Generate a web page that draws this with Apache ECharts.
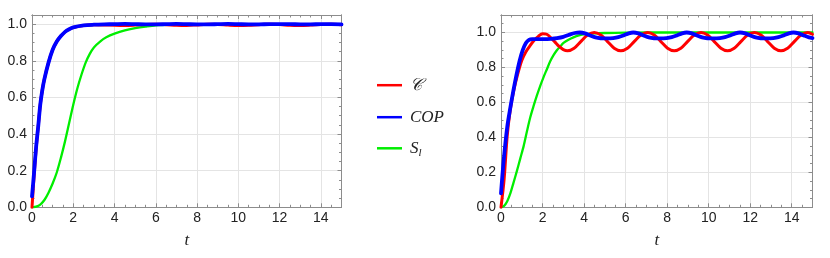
<!DOCTYPE html>
<html>
<head>
<meta charset="utf-8">
<script src="https://cdn.jsdelivr.net/npm/echarts@6/dist/echarts.min.js"></script>
<style>html,body{margin:0;padding:0;background:#fff;}#c{width:830px;height:258px;}</style>
</head>
<body>
<div id="c"></div>
<script>
// ---- Left panel data ----
const leftT = [0,0.1,0.2,0.3,0.4,0.5,0.6,0.8,1.0,1.2,1.4,1.6,1.8,2.0,2.5,3.0,3.5,4.0,4.5,5,5.5,6,6.5,7,7.5,8,8.5,9,9.5,10,10.5,11,11.5,12,12.5,13,13.5,14,14.5,15];
const leftRed = [0,0.17,0.32,0.44,0.56,0.64,0.70,0.79,0.86,0.905,0.935,0.958,0.972,0.982,0.993,0.997,0.996,0.994,0.993,0.995,0.998,0.999,0.997,0.994,0.993,0.996,0.999,0.998,0.995,0.993,0.994,0.997,0.999,0.998,0.994,0.993,0.995,0.998,0.999,0.997];
const leftBlue = [0.06,0.19,0.33,0.44,0.56,0.64,0.70,0.79,0.86,0.905,0.935,0.958,0.972,0.982,0.993,0.997,0.999,1.0,1.001,1.0,0.999,0.999,1.0,1.001,1.0,0.999,0.999,1.0,1.001,1.0,0.999,0.999,1.0,1.0,1.0,0.999,0.999,1.0,1.0,0.999];
const leftGreenT = [0,0.2,0.4,0.6,0.8,1.0,1.2,1.4,1.6,1.8,2.0,2.2,2.4,2.6,2.8,3.0,3.3,3.6,4.0,4.5,5.0,5.5,6.0,7.0,8.0,10,12,15];
const leftGreen = [0,0.004,0.015,0.04,0.08,0.13,0.19,0.27,0.36,0.46,0.56,0.65,0.725,0.79,0.838,0.873,0.905,0.928,0.948,0.966,0.978,0.987,0.994,0.998,1.0,1.0,1.0,1.0];

// ---- Right panel data ----
const rightRedT = [0,0.15,0.3,0.45,0.6,0.8,1.0,1.2,1.4,1.6,1.8,2.0,2.2,2.4,2.6,2.8,3.0,3.2,3.52,3.84,4.17,4.49,4.81,5.13,5.45,5.77,6.09,6.41,6.74,7.06,7.38,7.70,8.02,8.34,8.66,8.98,9.31,9.63,9.95,10.27,10.59,10.91,11.23,11.55,11.88,12.2,12.52,12.84,13.16,13.48,13.8,14.12,14.45,14.77,15];
const rightRed = [0,0.16,0.41,0.56,0.66,0.76,0.84,0.89,0.925,0.955,0.978,0.993,0.99,0.97,0.945,0.92,0.902,0.895,0.91,0.948,0.985,1.0,0.985,0.948,0.91,0.895,0.91,0.948,0.985,1.0,0.985,0.948,0.91,0.895,0.91,0.948,0.985,1.0,0.985,0.948,0.91,0.895,0.91,0.948,0.985,1.0,0.985,0.948,0.91,0.895,0.91,0.948,0.985,1.0,0.99];
const rightBlueT = [0,0.13,0.3,0.45,0.6,0.75,0.9,1.05,1.2,1.35,1.5,1.8,2.1,2.4,2.7,3.0,3.3,3.55,3.8,4.05,4.3,4.55,4.8,5.1,5.4,5.65,5.9,6.15,6.37,6.62,6.87,7.12,7.37,7.67,7.97,8.22,8.47,8.72,8.94,9.19,9.44,9.69,9.94,10.24,10.54,10.79,11.04,11.29,11.51,11.76,12.01,12.26,12.51,12.81,13.11,13.36,13.61,13.86,14.08,14.33,14.58,14.83,15];
const rightBlue = [0.08,0.27,0.46,0.57,0.67,0.76,0.84,0.9,0.94,0.958,0.962,0.962,0.962,0.964,0.968,0.975,0.988,0.997,1.0,0.995,0.983,0.972,0.967,0.966,0.968,0.973,0.983,0.995,1.0,0.995,0.983,0.972,0.967,0.966,0.968,0.973,0.983,0.995,1.0,0.995,0.983,0.972,0.967,0.966,0.968,0.973,0.983,0.995,1.0,0.995,0.983,0.972,0.967,0.966,0.968,0.973,0.983,0.995,1.0,0.995,0.983,0.972,0.968];
const rightGreenT = [0,0.15,0.3,0.45,0.6,0.77,0.93,1.09,1.25,1.41,1.57,1.73,1.89,2.05,2.21,2.37,2.53,2.69,2.85,3.01,3.25,3.49,3.75,4.05,4.5,5,6,7,15];
const rightGreen = [0,0.008,0.035,0.08,0.14,0.21,0.28,0.35,0.435,0.515,0.58,0.64,0.695,0.745,0.79,0.835,0.87,0.898,0.92,0.94,0.958,0.972,0.983,0.99,0.995,0.997,0.999,1.0,1.0];

// ---- Axis ticks ----
const xMajorStep = 2, xMinorStep = 0.5, yMajorStep = 0.2, yMinorStep = 0.05;
const xMax = 15, yMaxLeft = 1.05, yMaxRight = 1.1;
const seriesNames = ['\u{1D49E}', 'COP', 'S_l'];

const pairs = (t, v) => t.map((x, i) => [x, v[i]]);
const frameColor = '#8c8c8c';
const gridColor = '#e4e4e4';
const labelFont = {fontFamily: 'Liberation Sans, Arial, sans-serif', fontSize: 14, color: '#222'};

function isMult(v, s) { return Math.abs(v / s - Math.round(v / s)) < 1e-6; }

function xAxesFor(gi) {
  const base = {type: 'value', gridIndex: gi, min: 0, max: xMax, axisLine: {show: true, onZero: false, lineStyle: {color: frameColor, width: 1}}};
  return [
    Object.assign({}, base, {position: 'bottom', interval: xMajorStep,
      axisTick: {inside: true, length: 4, lineStyle: {color: frameColor}},
      axisLabel: Object.assign({margin: 4, formatter: v => isMult(v, xMajorStep) ? String(Math.round(v)) : ''}, labelFont),
      splitLine: {show: true, lineStyle: {color: gridColor, width: 1}},
      name: 't', nameLocation: 'middle', nameGap: 25,
      nameTextStyle: {fontFamily: 'Liberation Serif, Times New Roman, serif', fontStyle: 'italic', fontSize: 17, color: '#222'}}),
    Object.assign({}, base, {position: 'bottom', interval: xMinorStep,
      axisTick: {inside: true, length: 2.5, lineStyle: {color: frameColor}},
      axisLabel: {show: false}, splitLine: {show: false}}),
    Object.assign({}, base, {position: 'top', interval: xMajorStep,
      axisTick: {inside: true, length: 4, lineStyle: {color: frameColor}},
      axisLabel: {show: false}, splitLine: {show: false}}),
    Object.assign({}, base, {position: 'top', interval: xMinorStep,
      axisTick: {inside: true, length: 2.5, lineStyle: {color: frameColor}},
      axisLabel: {show: false}, splitLine: {show: false}})
  ];
}
function yAxesFor(gi, yMax) {
  const base = {type: 'value', gridIndex: gi, min: 0, max: yMax, axisLine: {show: true, onZero: false, lineStyle: {color: frameColor, width: 1}}};
  return [
    Object.assign({}, base, {position: 'left', interval: yMajorStep,
      axisTick: {inside: true, length: 4, lineStyle: {color: frameColor}},
      axisLabel: Object.assign({margin: 5, formatter: v => isMult(v, yMajorStep) ? v.toFixed(1) : ''}, labelFont),
      splitLine: {show: true, lineStyle: {color: gridColor, width: 1}}}),
    Object.assign({}, base, {position: 'left', interval: yMinorStep,
      axisTick: {inside: true, length: 2.5, lineStyle: {color: frameColor}},
      axisLabel: {show: false}, splitLine: {show: false}}),
    Object.assign({}, base, {position: 'right', interval: yMajorStep,
      axisTick: {inside: true, length: 4, lineStyle: {color: frameColor}},
      axisLabel: {show: false}, splitLine: {show: false}}),
    Object.assign({}, base, {position: 'right', interval: yMinorStep,
      axisTick: {inside: true, length: 2.5, lineStyle: {color: frameColor}},
      axisLabel: {show: false}, splitLine: {show: false}})
  ];
}

function line(name, data, color, width, xi, yi, z) {
  return {type: 'line', name, data, xAxisIndex: xi, yAxisIndex: yi, smooth: 0.3, showSymbol: false, symbol: 'none',
    lineStyle: {color, width, cap: 'round', join: 'round'}, itemStyle: {color}, z, animation: false};
}

const legendRich = {
  c: {fontFamily: 'DejaVu Serif, serif', fontStyle: 'italic', fontSize: 17, lineHeight: 20, color: '#222'},
  i: {fontFamily: 'Liberation Serif, serif', fontStyle: 'italic', fontSize: 17, lineHeight: 20, color: '#222'},
  s: {fontFamily: 'Liberation Serif, serif', fontStyle: 'italic', fontSize: 11, lineHeight: 20, verticalAlign: 'bottom', padding: [8, 0, 0, 0], color: '#222'}
};
function legendFmt(n) {
  if (n === 'S_l') return '{i|S}{s|l}';
  if (n === 'COP') return '{i|COP}';
  return '{c|' + n + '}';
}
const legendRows = [86.7, 118.7, 149.3];
const legends = seriesNames.map((n, i) => ({
  data: [n], left: 377, top: legendRows[i] - 10, padding: 0, orient: 'vertical',
  itemWidth: 25, itemHeight: 2.5, icon: 'rect', itemGap: 0, selectedMode: false,
  formatter: legendFmt, textStyle: {padding: [0, 0, 0, 3], rich: legendRich}
}));

const chart = echarts.init(document.getElementById('c'), null, {renderer: 'canvas'});
chart.setOption({
  animation: false,
  backgroundColor: '#fff',
  legend: legends,
  grid: [
    {left: 32, top: 15, width: 309.5, height: 192.3, containLabel: false},
    {left: 501, top: 15, width: 311.5, height: 192.3, containLabel: false}
  ],
  xAxis: xAxesFor(0).concat(xAxesFor(1)),
  yAxis: yAxesFor(0, yMaxLeft).concat(yAxesFor(1, yMaxRight)),
  series: [
    line(seriesNames[2], pairs(leftGreenT, leftGreen), '#00ee00', 2.3, 0, 0, 2),
    line(seriesNames[0], pairs(leftT, leftRed), '#ff0000', 3, 0, 0, 3),
    line(seriesNames[1], pairs(leftT, leftBlue), '#0000ff', 3.8, 0, 0, 4),
    line(seriesNames[2], pairs(rightGreenT, rightGreen), '#00ee00', 2.3, 4, 4, 2),
    line(seriesNames[0], pairs(rightRedT, rightRed), '#ff0000', 3, 4, 4, 3),
    line(seriesNames[1], pairs(rightBlueT, rightBlue), '#0000ff', 3.8, 4, 4, 4)
  ]
});
</script>
</body>
</html>
